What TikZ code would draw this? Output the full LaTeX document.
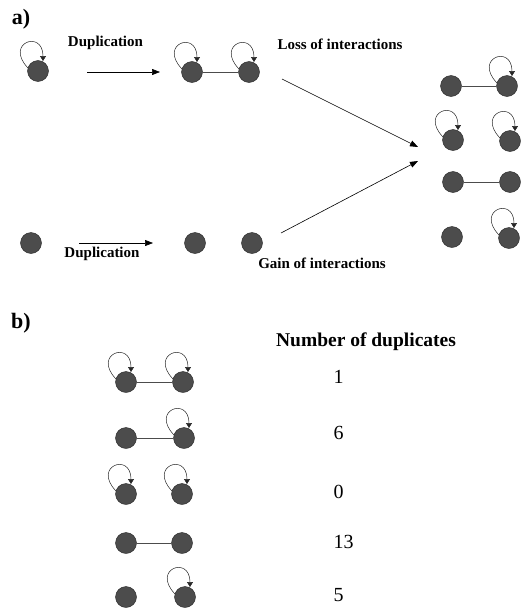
\documentclass[tikz,border=0pt]{standalone}
\usepackage{fontspec}
\setmainfont{Liberation Serif}
\usetikzlibrary{calc,arrows.meta}
\tikzset{
  dot/.style={circle,minimum size=21pt,inner sep=0pt,fill=black!70,draw=black!85,line width=0.4pt},
  link/.style={draw=black!70,line width=0.7pt},
  loopst/.style={draw=black!85,line width=0.5pt,-{Triangle[length=5pt,width=6pt]}},
  bigarrow/.style={draw=black,line width=0.6pt,-{Triangle[length=8pt,width=6pt]}},
  lab/.style={font=\fontsize{15}{16}\selectfont\bfseries},
  panel/.style={font=\fontsize{22}{24}\selectfont\bfseries},
  num/.style={font=\fontsize{20}{22}\selectfont,anchor=west},
}
\newcommand\sloop[1]{\draw[loopst] ($(#1)+(-10,-3)$) .. controls ($(#1)+(-34,-28)$) and ($(#1)+(5,-42)$) .. ($(#1)+(5,-10)$);}
\begin{document}
\begin{tikzpicture}[x=1pt,y=-1pt]
\useasboundingbox (0,0) rectangle (521,608);
% ---------- panel a ----------
\node[panel] (pa) at (21,19) {a)};
% top row
\node[dot] (t1) at (38,71) {};
\sloop{t1}
\node[lab] (dup1) at (105.5,43) {Duplication};
\coordinate (a1s) at (87,72);
\coordinate (a1e) at (160,72);
\draw[bigarrow] (a1s) -- (a1e);
\node[dot] (t2) at (192,72) {};
\node[dot] (t3) at (249,72) {};
\draw[link] (t2) -- (t3);
\sloop{t2}
\sloop{t3}
\node[lab] (loss) at (340,44) {Loss of interactions};
\coordinate (a3s) at (282,79);
\coordinate (a3e) at (418,147);
\draw[bigarrow] (a3s) -- (a3e);
% bottom row
\node[dot] (b1) at (31,243) {};
\coordinate (a2s) at (79,243);
\coordinate (a2e) at (153,243);
\draw[bigarrow] (a2s) -- (a2e);
\node[lab] (dup2) at (102,254) {Duplication};
\node[dot] (b2) at (195,243) {};
\node[dot] (b3) at (252,243) {};
\node[lab] (gain) at (322,263) {Gain of interactions};
\coordinate (a4s) at (281,233);
\coordinate (a4e) at (418,161);
\draw[bigarrow] (a4s) -- (a4e);
% right column
\node[dot] (r1a) at (451,86) {};
\node[dot] (r1b) at (507,86) {};
\draw[link] (r1a) -- (r1b);
\sloop{r1b}
\node[dot] (r2a) at (453,140) {};
\node[dot] (r2b) at (510,141) {};
\sloop{r2a}
\sloop{r2b}
\node[dot] (r3a) at (453,182) {};
\node[dot] (r3b) at (510,182) {};
\draw[link] (r3a) -- (r3b);
\node[dot] (r4a) at (452,237) {};
\node[dot] (r4b) at (509,238) {};
\sloop{r4b}
% ---------- panel b ----------
\node[panel] (pb) at (21,323) {b)};
\node[lab,font=\fontsize{19.5}{21}\selectfont\bfseries] (hdr) at (366,342) {Number of duplicates};
\node[dot] (s1a) at (126,382) {};
\node[dot] (s1b) at (183,382) {};
\draw[link] (s1a) -- (s1b);
\sloop{s1a}
\sloop{s1b}
\node[num] (n1) at (330,377) {1};
\node[dot] (s2a) at (126,438) {};
\node[dot] (s2b) at (184,438) {};
\draw[link] (s2a) -- (s2b);
\sloop{s2b}
\node[num] (n2) at (330,433) {6};
\node[dot] (s3a) at (126,494) {};
\node[dot] (s3b) at (182,494) {};
\sloop{s3a}
\sloop{s3b}
\node[num] (n3) at (330,492) {0};
\node[dot] (s4a) at (126,543) {};
\node[dot] (s4b) at (182,543) {};
\draw[link] (s4a) -- (s4b);
\node[num] (n4) at (330,542) {13};
\node[dot] (s5a) at (126,597) {};
\node[dot] (s5b) at (185,597) {};
\sloop{s5b}
\node[num] (n5) at (330,595) {5};
\end{tikzpicture}
\end{document}
